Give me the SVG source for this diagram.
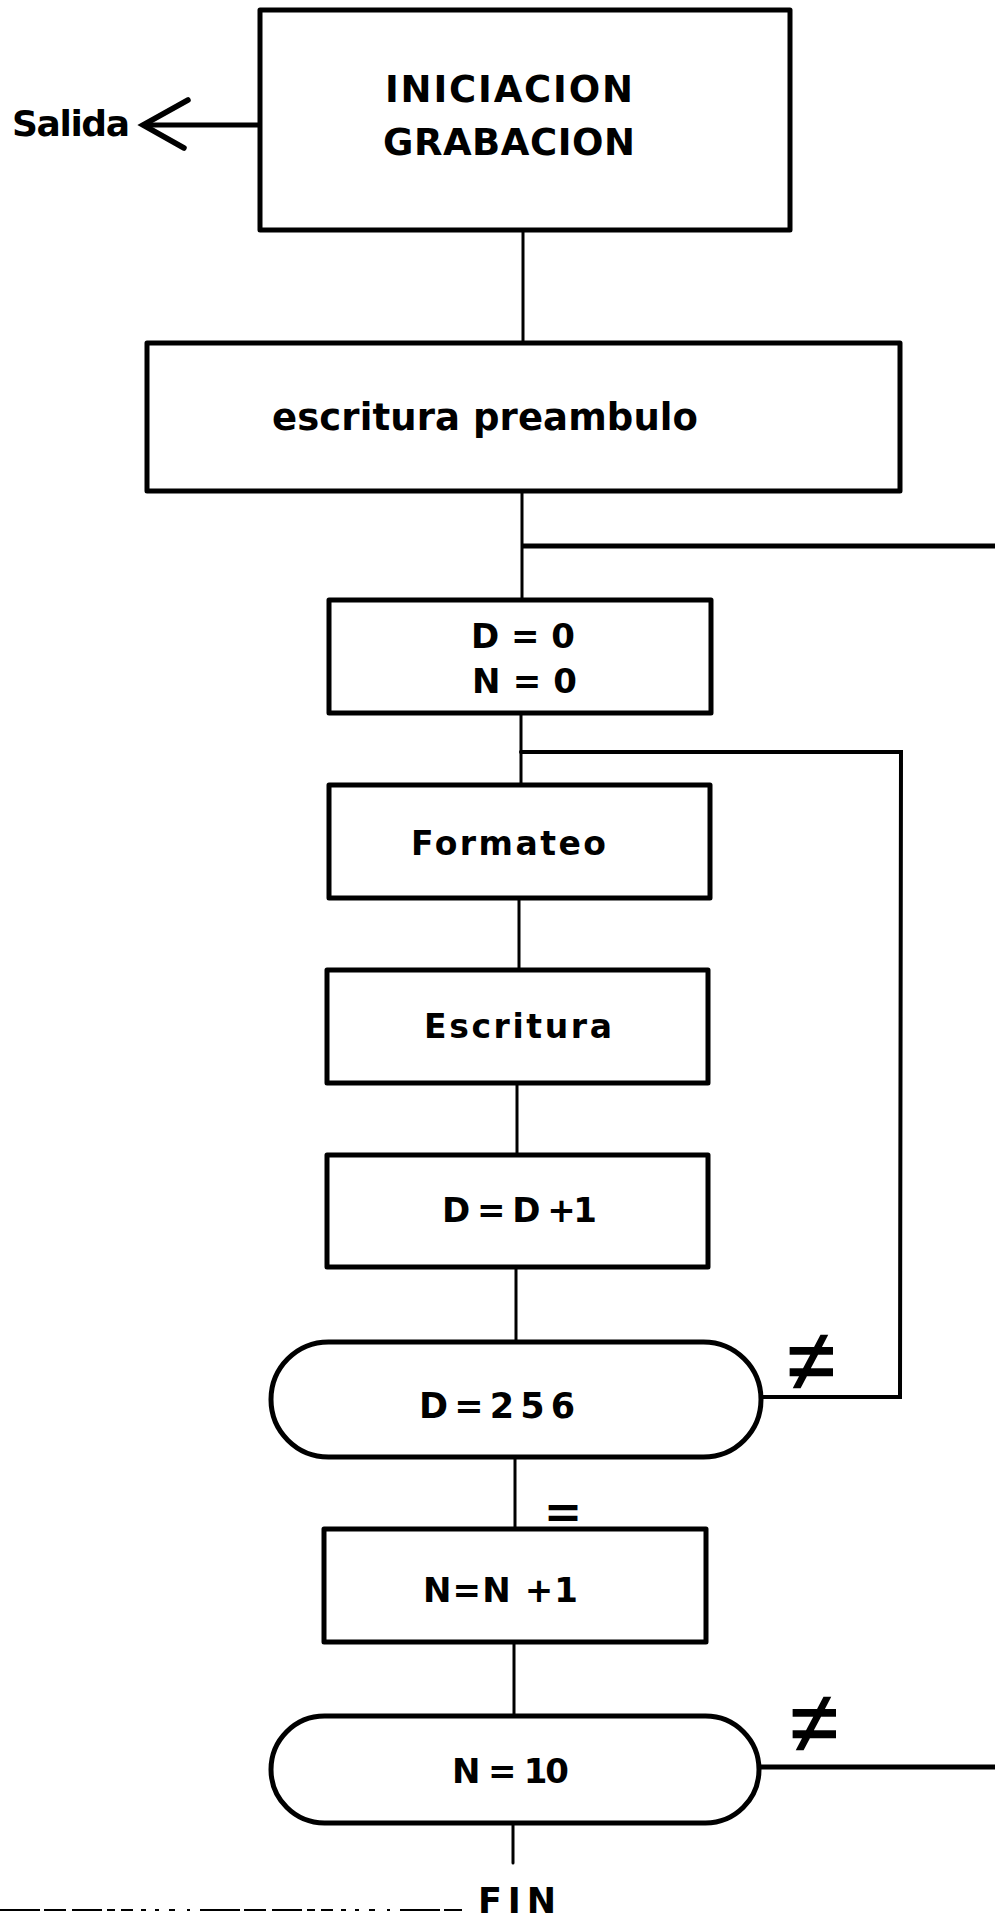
<svg xmlns="http://www.w3.org/2000/svg" width="995" height="1918" viewBox="0 0 995 1918">
  <style>
    .box { fill: #fff; stroke: #000; stroke-width: 5; stroke-linejoin: round; }
    .wire { fill: none; stroke: #000; stroke-width: 3; stroke-linecap: round; stroke-linejoin: miter; }
    .wire-h { fill: none; stroke: #000; stroke-width: 5; stroke-linecap: butt; }
    .lbl { font-family: "DejaVu Sans", "Liberation Sans", Arial, sans-serif; font-weight: bold; fill: #000; }
    .sym { font-family: "Liberation Sans", Arial, sans-serif; font-weight: normal; fill: #000; stroke: #000; stroke-width: 1.6; }
  </style>
  <rect width="995" height="1918" fill="#fff"/>

  <!-- connectors -->
  <g id="connectors">
    <!-- exit arrow to the left -->
    <line class="wire-h" x1="260" y1="125" x2="146" y2="125"/>
    <polyline class="wire" style="stroke-width:5.5" points="188,100 143,125 184,148"/>
    <!-- main trunk -->
    <line class="wire" x1="523" y1="230" x2="523" y2="343"/>
    <line class="wire" x1="522" y1="491" x2="522" y2="600"/>
    <line class="wire" x1="521" y1="713" x2="521" y2="785"/>
    <line class="wire" x1="519" y1="898" x2="519" y2="970"/>
    <line class="wire" x1="517" y1="1083" x2="517" y2="1155"/>
    <line class="wire" x1="516" y1="1267" x2="516" y2="1342"/>
    <line class="wire" x1="515" y1="1457" x2="515" y2="1529"/>
    <line class="wire" x1="514" y1="1642" x2="514" y2="1716"/>
    <line class="wire" x1="513" y1="1823" x2="513" y2="1863"/>
    <!-- outer return joining above D=0 / N=0 -->
    <line class="wire-h" x1="522" y1="546" x2="995" y2="546"/>
    <!-- inner return from D=256 -->
    <polyline class="wire" style="stroke-width:4" points="521,752 901,752 900,1397 761,1397"/>
    <!-- N=10 not-equal exit -->
    <line class="wire-h" x1="759" y1="1767" x2="995" y2="1767"/>
    <!-- bottom rule -->
    <line x1="0" y1="1910" x2="462" y2="1910" stroke="#000" stroke-width="2" stroke-dasharray="40 4 22 6 30 5 8 6 12 8 5 9 4 10 6 12 3 10"/>
  </g>

  <g id="n-inicio">
    <rect class="box" x="260" y="10" width="530" height="220"/>
    <text class="lbl" x="385" y="102" font-size="37" textLength="248" lengthAdjust="spacing">INICIACION</text>
    <text class="lbl" x="383" y="155" font-size="37" textLength="252" lengthAdjust="spacing">GRABACION</text>
  </g>

  <g id="n-salida">
    <text class="lbl" x="12" y="136" font-size="36" textLength="118" lengthAdjust="spacing">Salida</text>
  </g>

  <g id="n-preambulo">
    <rect class="box" x="147" y="343" width="753" height="148"/>
    <text class="lbl" x="272" y="430" font-size="37" textLength="426" lengthAdjust="spacing">escritura preambulo</text>
  </g>

  <g id="n-init">
    <rect class="box" x="329" y="600" width="382" height="113"/>
    <text class="lbl" x="471" y="648" font-size="34" textLength="104" lengthAdjust="spacing">D = 0</text>
    <text class="lbl" x="472" y="693" font-size="34" textLength="105" lengthAdjust="spacing">N = 0</text>
  </g>

  <g id="n-formateo">
    <rect class="box" x="329" y="785" width="381" height="113"/>
    <text class="lbl" x="411" y="855" font-size="33" textLength="195" lengthAdjust="spacing">Formateo</text>
  </g>

  <g id="n-escritura">
    <rect class="box" x="327" y="970" width="381" height="113"/>
    <text class="lbl" x="424" y="1038" font-size="33" textLength="188" lengthAdjust="spacing">Escritura</text>
  </g>

  <g id="n-incd">
    <rect class="box" x="327" y="1155" width="381" height="112"/>
    <text class="lbl" x="442" y="1222" font-size="34" textLength="155" lengthAdjust="spacing">D = D +1</text>
  </g>

  <g id="n-test-d">
    <rect class="box" x="271" y="1342" width="490" height="115" rx="57.5" ry="57.5"/>
    <text class="lbl" x="419" y="1418" font-size="35" textLength="156" lengthAdjust="spacing">D=256</text>
    <text class="sym" x="811" y="1390" font-size="86" text-anchor="middle">≠</text>
    <text class="lbl" x="563" y="1528" font-size="46" text-anchor="middle">=</text>
  </g>

  <g id="n-incn">
    <rect class="box" x="324" y="1529" width="382" height="113"/>
    <text class="lbl" x="423" y="1602" font-size="34" textLength="155" lengthAdjust="spacing">N=N +1</text>
  </g>

  <g id="n-test-n">
    <rect class="box" x="271" y="1716" width="488" height="107" rx="53.5" ry="53.5"/>
    <text class="lbl" x="452" y="1783" font-size="34" textLength="117" lengthAdjust="spacing">N = 10</text>
    <text class="sym" x="814" y="1752" font-size="86" text-anchor="middle">≠</text>
  </g>

  <g id="n-fin">
    <text class="lbl" x="478" y="1913" font-size="35" textLength="78" lengthAdjust="spacing">FIN</text>
  </g>
</svg>
